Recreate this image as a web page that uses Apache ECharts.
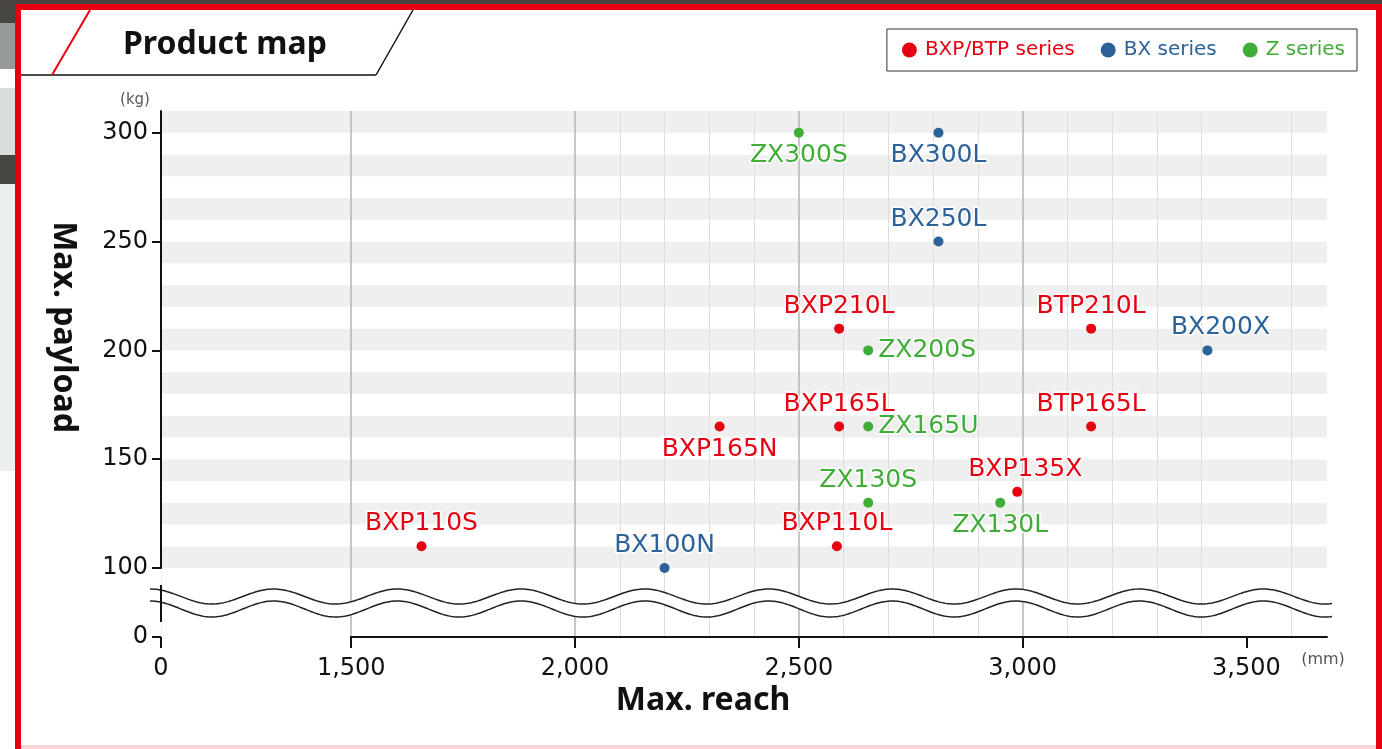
<!DOCTYPE html>
<html>
<head>
<meta charset="utf-8">
<script src="https://cdn.jsdelivr.net/npm/echarts@6/dist/echarts.min.js"></script>
<style>
	html,body{margin:0;padding:0;background:#fff}
	#chart{width:1382px;height:749px}
</style>
</head>
<body>
<div id="chart"></div>
<script>
// BXP/BTP series
var bxpNames=['BXP110S','BXP165N','BXP210L','BXP165L','BXP110L','BXP135X','BTP210L','BTP165L'];
var bxpReach=[1657,2323,2590,2590,2585,2988,3153,3153];
var bxpPayload=[110,165,210,165,110,135,210,165];
// BX series
var bxNames=['BX100N','BX300L','BX250L','BX200X'];
var bxReach=[2200,2812,2812,3413];
var bxPayload=[100,300,250,200];
// Z series
var zNames=['ZX300S','ZX200S','ZX165U','ZX130S','ZX130L'];
var zReach=[2500,2655,2655,2655,2950];
var zPayload=[300,200,165,130,130];

var xTickValues=[0,1500,2000,2500,3000,3500];
var yTickValues=[0,100,150,200,250,300];

var RED='#e60012',BLUE='#2b6298',GREEN='#40ad38';
var FONT='DejaVu Sans';
var BOLD='Noto Sans';

// label placement per point
var labelPos={
	'BXP110S':'top','BXP165N':'bottom','BXP210L':'top','BXP165L':'top','BXP110L':'top',
	'BXP135X':'top','BTP210L':'top','BTP165L':'top',
	'BX100N':'top','BX300L':'bottom','BX250L':'top','BX200X':'top',
	'ZX300S':'bottom','ZX200S':'right','ZX165U':'right','ZX130S':'top','ZX130L':'bottom'
};
var labelOffset={'BXP135X':[8,0],'BX200X':[13,0]};

function makeData(names,xs,ys){
	var out=[];
	for(var i=0;i<names.length;i++){
		out.push({
			name:names[i],
			value:[xs[i],ys[i]],
			label:{position:labelPos[names[i]]||'top',offset:labelOffset[names[i]]||[0,0]}
		});
	}
	return out;
}

function makeSeries(name,color,data){
	return {
		name:name,
		type:'scatter',
		symbol:'circle',
		symbolSize:10,
		itemStyle:{color:color,opacity:1},
		label:{
			show:true,
			formatter:'{b}',
			color:color,
			opacity:1,
			fontFamily:FONT,
			fontSize:25,
			distance:5,
			textBorderColor:'#fff',
			textBorderWidth:3
		},
		emphasis:{disabled:true},
		data:data,
		z:5
	};
}

// wavy break band (decoration)
function wave(cy,amp){
	var pts=[];
	for(var x=150;x<=1332;x+=2){
		pts.push([x,cy-amp*Math.cos(2*Math.PI*(x-150)/123.7)]);
	}
	return pts;
}
var waveTop=wave(596.5,7.5);
var waveBot=wave(609,8);
var bandPts=waveTop.concat(waveBot.slice().reverse());

var yBreaks=[{start:0,end:100,gap:31.7}];

var myChart=echarts.init(document.getElementById('chart'));
var option={
	backgroundColor:'#fff',
	animation:false,
	textStyle:{fontFamily:FONT},
	legend:{
		right:25,
		top:29,
		icon:'circle',
		itemWidth:15,
		itemHeight:15,
		itemGap:26,
		borderColor:'#333',
		borderWidth:1,
		padding:[11,12,11,15],
		textStyle:{fontFamily:FONT,fontSize:20,padding:[0,0,0,3]},
		data:[
			{name:'BXP/BTP series',textStyle:{color:RED}},
			{name:'BX series',textStyle:{color:BLUE}},
			{name:'Z series',textStyle:{color:GREEN}}
		]
	},
	grid:{left:161,right:55,top:111,bottom:112},
	xAxis:{
		type:'value',
		min:0,
		max:3680,
		interval:500,
		breaks:[{start:0,end:1500,gap:425}],
		breakArea:{show:false},
		axisLine:{show:true,lineStyle:{color:'#111',width:2}},
		axisTick:{show:true,length:11,lineStyle:{color:'#111',width:2},customValues:xTickValues},
		axisLabel:{
			color:'#111',fontFamily:FONT,fontSize:24,margin:20,
			customValues:xTickValues,
			formatter:function(v){return v.toLocaleString('en-US');}
		},
		splitLine:{show:true,showMinLine:false,showMaxLine:false,lineStyle:{color:'#b4b4b4',width:1.5}},
		minorTick:{show:false,splitNumber:5},
		minorSplitLine:{show:true,lineStyle:{color:'#dedede',width:1}},
		z:0
	},
	yAxis:[
		{
			type:'value',
			min:0,
			max:310,
			interval:50,
			breaks:yBreaks,
			breakArea:{show:false},
			axisLine:{show:true,lineStyle:{color:'#111',width:2}},
			axisTick:{show:true,length:9,lineStyle:{color:'#111',width:2},customValues:yTickValues},
			axisLabel:{color:'#111',fontFamily:FONT,fontSize:24,margin:13,customValues:yTickValues},
			splitLine:{show:false},
			splitArea:{show:false},
			z:3
		},
		{
			// stripes every 10 kg
			type:'value',
			position:'left',
			min:0,
			max:310,
			interval:10,
			breaks:yBreaks,
			breakArea:{show:false},
			axisLine:{show:false},
			axisTick:{show:false},
			axisLabel:{show:false},
			splitLine:{show:false},
			splitArea:{show:true,areaStyle:{color:['#efefef','#ffffff']}},
			z:-2
		}
	],
	graphic:[
		// page frame
		{type:'rect',shape:{x:0,y:0,width:1382,height:4},style:{fill:'#4a4545'},z:200},
		{type:'rect',shape:{x:0,y:0,width:15,height:23},style:{fill:'#4a4545'},z:200},
		{type:'rect',shape:{x:0,y:23,width:15,height:46},style:{fill:'#999999'},z:200},
		{type:'rect',shape:{x:0,y:88,width:15,height:67},style:{fill:'#dcdcdc'},z:200},
		{type:'rect',shape:{x:0,y:155,width:15,height:29},style:{fill:'#4a4545'},z:200},
		{type:'rect',shape:{x:0,y:184,width:15,height:287},style:{fill:'#eeeeee'},z:200},
		{type:'rect',shape:{x:15,y:4,width:1367,height:6},style:{fill:RED},z:201},
		{type:'rect',shape:{x:15,y:4,width:6,height:745},style:{fill:RED},z:201},
		{type:'rect',shape:{x:1376,y:4,width:6,height:745},style:{fill:RED},z:201},
		{type:'rect',shape:{x:21,y:745,width:1355,height:4},style:{fill:'#f9d3d6'},z:201},
		// title tab
		{type:'line',shape:{x1:21,y1:75,x2:376,y2:75},style:{stroke:'#111',lineWidth:1.5},z:200},
		{type:'line',shape:{x1:376,y1:75,x2:413,y2:10},style:{stroke:'#111',lineWidth:1.5},z:200},
		{type:'line',shape:{x1:52,y1:75,x2:90,y2:10},style:{stroke:RED,lineWidth:2},z:200},
		{type:'text',x:123,y:45,style:{text:'Product map',fill:'#111',font:'bold 32px "'+BOLD+'"',textVerticalAlign:'middle'},z:200},
		// axis names and units
		{type:'text',x:63,y:327,rotation:-Math.PI/2,style:{text:'Max. payload',fill:'#111',font:'bold 32px "'+BOLD+'"',textAlign:'center',textVerticalAlign:'middle'},z:200},
		{type:'text',x:703,y:701,style:{text:'Max. reach',fill:'#111',font:'bold 32px "'+BOLD+'"',textAlign:'center',textVerticalAlign:'middle'},z:200},
		{type:'text',x:135,y:100,style:{text:'(kg)',fill:'#555',font:'15px "'+FONT+'"',textAlign:'center',textVerticalAlign:'middle'},z:200},
		{type:'text',x:1323,y:660,style:{text:'(mm)',fill:'#555',font:'16px "'+FONT+'"',textAlign:'center',textVerticalAlign:'middle'},z:200},
		// keep the broken 0-100 zone unstriped
		{type:'rect',shape:{x:162,y:568,width:1165,height:69},style:{fill:'#fff'},z:-1},
		// wavy break
		{type:'polygon',shape:{points:bandPts},style:{fill:'#fff'},z:100},
		{type:'polyline',shape:{points:waveTop},style:{stroke:'#222',lineWidth:1.5,fill:null},z:101},
		{type:'polyline',shape:{points:waveBot},style:{stroke:'#222',lineWidth:1.5,fill:null},z:101},
		{type:'line',shape:{x1:161,y1:585,x2:161,y2:622},style:{stroke:'#111',lineWidth:2},z:102}
	],
	series:[
		makeSeries('BXP/BTP series',RED,makeData(bxpNames,bxpReach,bxpPayload)),
		makeSeries('BX series',BLUE,makeData(bxNames,bxReach,bxPayload)),
		makeSeries('Z series',GREEN,makeData(zNames,zReach,zPayload))
	]
};
myChart.setOption(option);
</script>
</body>
</html>
